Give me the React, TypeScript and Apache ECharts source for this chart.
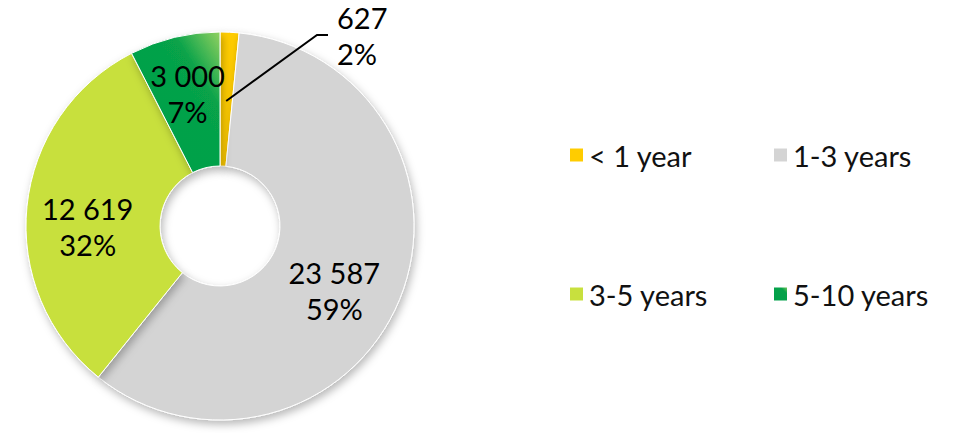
import React, { useEffect, useRef } from "react";
import * as echarts from "echarts";

const categories = ["< 1 year", "1-3 years", "3-5 years", "5-10 years"];
const values = [627, 23587, 12619, 3000];
const colors = ["#FFCC00", "#D4D4D4", "#C8E03E", "#00A04A"];

const FONT = "Lato, 'Open Sans', sans-serif";

export default function App() {
  const ref = useRef<HTMLDivElement>(null);
  useEffect(() => {
    if (!ref.current) return;
    const chart = echarts.init(ref.current, null, { renderer: "svg" });
    const total = values.reduce((a, b) => a + b, 0);
    const cx = 220;
    const cy = 226;
    const R = 194;
    const r0 = 60;
    const fmt = (v: number) => String(v).replace(/\B(?=(\d{3})+(?!\d))/g, " ");
    const greenGrad = new echarts.graphic.LinearGradient(0, 1, 1, 0, [
      { offset: 0, color: "#00A04A" },
      { offset: 0.72, color: "#07A24A" },
      { offset: 1, color: "#92D160" },
    ]);
    const legendPos = [
      [568, 140],
      [772, 140],
      [568, 279],
      [772, 279],
    ];
    const labelShift = [
      [0, 0],
      [-6, 15],
      [-3, 14],
      [-2, -6],
    ];
    const labelStyle = {
      fontFamily: FONT,
      fontSize: 29,
      lineHeight: 36,
      color: "#000000",
      align: "center" as const,
      formatter: (p: any) => fmt(p.value) + "\n" + p.percent + "%",
    };
    const data = values.map((v, i) => ({
      name: categories[i],
      value: v,
      itemStyle: { color: i === 3 ? greenGrad : colors[i] },
      label: { show: i !== 0, position: "inside" as const },
    }));
    const overlayData = values.map((v, i) => ({
      name: categories[i],
      value: v,
      itemStyle: { color: "rgba(0,0,0,0)" },
      label: { show: i === 0, position: "outside" as const },
      labelLine: { show: i === 0 },
    }));
    chart.setOption({
      animation: false,
      backgroundColor: "#ffffff",
      legend: categories.map((c, i) => ({
        data: [c],
        left: legendPos[i][0],
        top: legendPos[i][1],
        padding: 0,
        icon: "rect",
        itemWidth: 15,
        itemHeight: 15,
        selectedMode: false,
        textStyle: {
          fontFamily: FONT,
          fontSize: 29,
          color: "#111111",
          lineHeight: 30,
        },
      })),
      series: [
        {
          type: "pie",
          center: [cx, cy],
          radius: [r0, R],
          startAngle: 90,
          clockwise: true,
          avoidLabelOverlap: false,
          percentPrecision: 0,
          data,
          itemStyle: {
            borderColor: "#ffffff",
            borderWidth: 1,
            shadowBlur: 8,
            shadowOffsetX: 2,
            shadowOffsetY: 4,
            shadowColor: "rgba(0,0,0,0.28)",
          },
          label: labelStyle,
          labelLine: { show: false },
          labelLayout: (params: any) => {
            const i = params.dataIndex;
            return { dx: labelShift[i][0], dy: labelShift[i][1] };
          },
        },
        {
          type: "pie",
          z: 5,
          silent: true,
          legendHoverLink: false,
          center: [cx, cy],
          radius: [r0, R],
          startAngle: 90,
          clockwise: true,
          avoidLabelOverlap: false,
          percentPrecision: 0,
          data: overlayData,
          itemStyle: { borderWidth: 0 },
          label: labelStyle,
          labelLine: {
            showAbove: true,
            lineStyle: { color: "#000000", width: 2 },
          },
          labelLayout: (params: any) => {
            if (params.dataIndex !== 0) return {};
            const mid = (values[0] / total / 2) * Math.PI * 2;
            const rs = 0.645 * R;
            const sx = cx + rs * Math.sin(mid);
            const sy = cy - rs * Math.cos(mid);
            const bx = cx + 0.5 * R;
            const by = cy - R + 3;
            const ex = bx + 11;
            return {
              x: ex + 9,
              y: by,
              align: "left",
              verticalAlign: "middle",
              labelLinePoints: [
                [sx, sy],
                [bx, by],
                [ex, by],
              ],
            };
          },
        },
      ],
    });
    return () => chart.dispose();
  }, []);
  return (
    <div
      ref={ref}
      style={{ position: "fixed", left: 0, top: 0, width: 956, height: 433 }}
    />
  );
}
